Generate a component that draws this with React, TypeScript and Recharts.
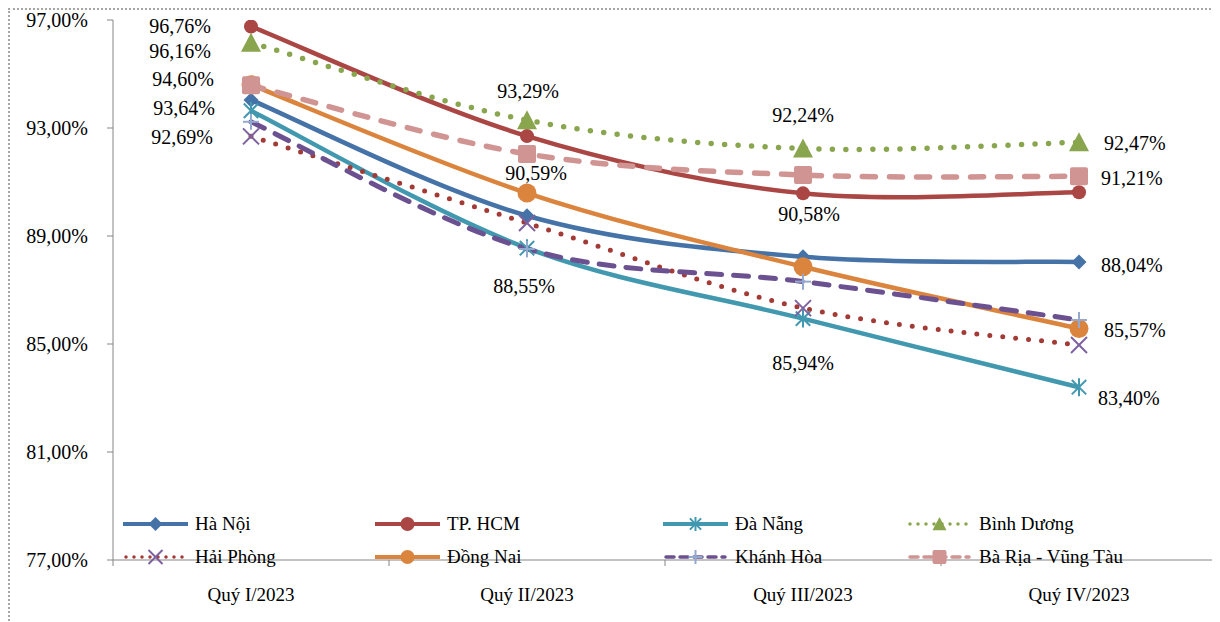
import { LabelList, Legend, Line, LineChart, XAxis, YAxis } from 'recharts';

const quarters = ['Quý I/2023', 'Quý II/2023', 'Quý III/2023', 'Quý IV/2023'];
const haNoi = [94.04, 89.75, 88.23, 88.04];
const tpHcm = [96.76, 92.7, 90.58, 90.62];
const daNang = [93.64, 88.55, 85.94, 83.4];
const binhDuong = [96.16, 93.29, 92.24, 92.47];
const haiPhong = [92.69, 89.48, 86.33, 84.96];
const dongNai = [94.6, 90.59, 87.86, 85.57];
const khanhHoa = [93.23, 88.52, 87.31, 85.89];
const baRiaVungTau = [94.58, 92.04, 91.26, 91.21];
const yTicks = [77, 81, 85, 89, 93, 97];

const FONT = '"Times New Roman", "Liberation Serif", serif';

type Shape = 'diamond' | 'circle' | 'star' | 'triangle' | 'cross' | 'plus' | 'square';

const series = [
  { key: 'haNoi', name: 'Hà Nội', values: haNoi, color: '#4572A7', marker: '#4572A7', shape: 'diamond' as Shape, size: 7.5, width: 4.5, dash: undefined as string | undefined },
  { key: 'tpHcm', name: 'TP. HCM', values: tpHcm, color: '#AA4643', marker: '#AA4643', shape: 'circle' as Shape, size: 7, width: 4.5, dash: undefined },
  { key: 'daNang', name: 'Đà Nẵng', values: daNang, color: '#4198AF', marker: '#4198AF', shape: 'star' as Shape, size: 9, width: 4.5, dash: undefined },
  { key: 'binhDuong', name: 'Bình Dương', values: binhDuong, color: '#89A54E', marker: '#89A54E', shape: 'triangle' as Shape, size: 10, width: 5.5, dash: '0 13.5' },
  { key: 'haiPhong', name: 'Hải Phòng', values: haiPhong, color: '#A33A36', marker: '#7D60A0', shape: 'cross' as Shape, size: 8, width: 5, dash: '0 13' },
  { key: 'dongNai', name: 'Đồng Nai', values: dongNai, color: '#DB843D', marker: '#DB843D', shape: 'circle' as Shape, size: 9.5, width: 4.5, dash: undefined },
  { key: 'khanhHoa', name: 'Khánh Hòa', values: khanhHoa, color: '#6B5190', marker: '#93A9CF', shape: 'plus' as Shape, size: 8, width: 5, dash: '15 12' },
  { key: 'baRiaVungTau', name: 'Bà Rịa - Vũng Tàu', values: baRiaVungTau, color: '#D09493', marker: '#D09493', shape: 'square' as Shape, size: 9, width: 5.5, dash: '13 14' },
];

// which points carry a data label, and where it sits next to the point
const labelSpots: Record<string, Array<[number, number, number, 'start' | 'middle' | 'end']>> = {
  haNoi: [[3, 22, 3, 'start']],
  tpHcm: [[0, -40, 0, 'end'], [2, 6, 21, 'middle']],
  daNang: [[0, -36, -3, 'end'], [1, -3, 38, 'middle'], [2, 0, 44, 'middle'], [3, 19, 11, 'start']],
  binhDuong: [[0, -40, 8, 'end'], [1, 1, -29, 'middle'], [2, 0, -34, 'middle'], [3, 25, 1, 'start']],
  haiPhong: [[0, -38, 1, 'end']],
  dongNai: [[0, -37, -6, 'end'], [1, 9, -20, 'middle'], [3, 25, 1, 'start']],
  baRiaVungTau: [[3, 22, 2, 'start']],
};

const legendCols = [115, 367, 655, 899];
const legendRows = [516, 549];

const chartData = quarters.map((quarter, i) => {
  const row: Record<string, string | number> = { quarter };
  series.forEach((s) => { row[s.key] = s.values[i]; });
  return row;
});

const pct = (v: number) => `${v.toFixed(2).replace('.', ',')}%`;

// Excel-like smoothed line (Catmull-Rom through the points)
function excelSmooth(context: any) {
  let pts: number[][] = [];
  return {
    areaStart() {},
    areaEnd() {},
    lineStart() { pts = []; },
    point(x: number, y: number) { pts.push([+x, +y]); },
    lineEnd() {
      if (!pts.length) return;
      context.moveTo(pts[0][0], pts[0][1]);
      for (let i = 0; i < pts.length - 1; i++) {
        const p0 = pts[Math.max(i - 1, 0)];
        const p1 = pts[i];
        const p2 = pts[i + 1];
        const p3 = pts[Math.min(i + 2, pts.length - 1)];
        context.bezierCurveTo(
          p1[0] + (p2[0] - p0[0]) / 6, p1[1] + (p2[1] - p0[1]) / 6,
          p2[0] - (p3[0] - p1[0]) / 6, p2[1] - (p3[1] - p1[1]) / 6,
          p2[0], p2[1],
        );
      }
    },
  };
}

function Marker({ shape, cx, cy, r, color }: { shape: Shape; cx: number; cy: number; r: number; color: string }) {
  switch (shape) {
    case 'diamond':
      return <polygon points={`${cx},${cy - r} ${cx + r},${cy} ${cx},${cy + r} ${cx - r},${cy}`} fill={color} />;
    case 'circle':
      return <circle cx={cx} cy={cy} r={r} fill={color} />;
    case 'triangle':
      return <polygon points={`${cx},${cy - r} ${cx + r},${cy + r * 0.9} ${cx - r},${cy + r * 0.9}`} fill={color} />;
    case 'square':
      return <rect x={cx - r} y={cy - r} width={r * 2} height={r * 2} rx={2} fill={color} />;
    case 'cross':
      return (
        <g stroke={color} strokeWidth={2}>
          <line x1={cx - r} y1={cy - r} x2={cx + r} y2={cy + r} />
          <line x1={cx - r} y1={cy + r} x2={cx + r} y2={cy - r} />
        </g>
      );
    case 'plus':
      return (
        <g stroke={color} strokeWidth={2}>
          <line x1={cx - r} y1={cy} x2={cx + r} y2={cy} />
          <line x1={cx} y1={cy - r} x2={cx} y2={cy + r} />
        </g>
      );
    case 'star':
      return (
        <g stroke={color} strokeWidth={2}>
          <line x1={cx - r * 0.8} y1={cy - r * 0.8} x2={cx + r * 0.8} y2={cy + r * 0.8} />
          <line x1={cx - r * 0.8} y1={cy + r * 0.8} x2={cx + r * 0.8} y2={cy - r * 0.8} />
          <line x1={cx} y1={cy - r} x2={cx} y2={cy + r} />
        </g>
      );
  }
  return null;
}

function CategoryTick(props: any) {
  const { x, y, payload, index } = props;
  const half = payload?.offset || 138;
  const axisY = y - 28;
  const isLast = index === quarters.length - 1;
  return (
    <g>
      <line x1={x - half} y1={axisY} x2={x - half} y2={axisY + 6} stroke="#868686" />
      {isLast && <line x1={x + half} y1={axisY} x2={x + half} y2={axisY + 6} stroke="#868686" />}
      <text x={x} y={y} dy="0.71em" textAnchor="middle" fill="#000" fontSize={19} fontFamily={FONT}>
        {payload.value}
      </text>
    </g>
  );
}

function ChartLegend() {
  return (
    <div style={{ position: 'relative', width: 1212, height: 614 }}>
      {series.map((s, i) => {
        const left = legendCols[i % 4];
        const top = legendRows[Math.floor(i / 4)];
        return (
          <div key={s.key} style={{ position: 'absolute', left, top: top - 12, height: 24, display: 'flex', alignItems: 'center' }}>
            <svg width={65} height={24} style={{ display: 'block' }}>
              <line x1={s.dash ? 3 : 0} y1={12} x2={s.dash ? 62 : 65} y2={12} stroke={s.color} strokeWidth={s.dash ? 3.5 : 4}
                strokeDasharray={s.dash ? (s.dash.startsWith('0') ? '0 8' : '8 6') : undefined} strokeLinecap={s.dash ? 'round' : 'butt'} />
              <Marker shape={s.shape} cx={32.5} cy={12} r={7} color={s.marker} />
            </svg>
            <span style={{ marginLeft: 7, fontFamily: FONT, fontSize: 19, color: '#000', whiteSpace: 'nowrap', lineHeight: '24px' }}>{s.name}</span>
          </div>
        );
      })}
    </div>
  );
}

export default function App() {
  return (
    <div style={{ position: 'relative', width: 1212, height: 614, background: '#fff' }}>
      <div style={{ position: 'absolute', left: 0, top: 0, width: 1211, height: 700, border: '2px dotted #a6a6a6', boxSizing: 'border-box' }} />
      <LineChart width={1212} height={614} data={chartData} margin={{ top: 12, right: 3, left: 0, bottom: 0 }} style={{ position: 'absolute', left: 0, top: 0 }}>
        <XAxis dataKey="quarter" scale="band" height={62} stroke="#868686" tickLine={false} tickSize={6} tickMargin={22} tick={<CategoryTick />} interval={0} />
        <YAxis width={105} domain={[77, 97]} ticks={yTicks} tickFormatter={pct} stroke="#868686" tickSize={6} tickMargin={19}
          tick={{ fill: '#000', fontSize: 20, fontFamily: FONT }} allowDataOverflow />
        <Legend layout="horizontal" verticalAlign="middle" align="center" content={<ChartLegend />}
          wrapperStyle={{ left: 0, top: 0, width: 1212, height: 614, pointerEvents: 'none' }} />
        {series.map((s) => (
          <Line
            key={s.key}
            dataKey={s.key}
            name={s.name}
            type={excelSmooth as any}
            stroke={s.color}
            strokeWidth={s.width}
            strokeDasharray={s.dash}
            strokeLinecap={s.dash ? 'round' : 'butt'}
            isAnimationActive={false}
            activeDot={false}
            dot={(p: any) => <Marker key={`${s.key}-${p.index}`} shape={s.shape} cx={p.cx} cy={p.cy} r={s.size} color={s.marker} />}
          >
            <LabelList
              dataKey={s.key}
              content={(p: any) => {
                const spot = (labelSpots[s.key] || []).find((l) => l[0] === p.index);
                if (!spot) return null;
                return (
                  <text x={p.x + spot[1]} y={p.y + spot[2]} textAnchor={spot[3]} dominantBaseline="central" fill="#000" fontSize={20} fontFamily={FONT}>
                    {pct(Number(p.value))}
                  </text>
                );
              }}
            />
          </Line>
        ))}
      </LineChart>
    </div>
  );
}
